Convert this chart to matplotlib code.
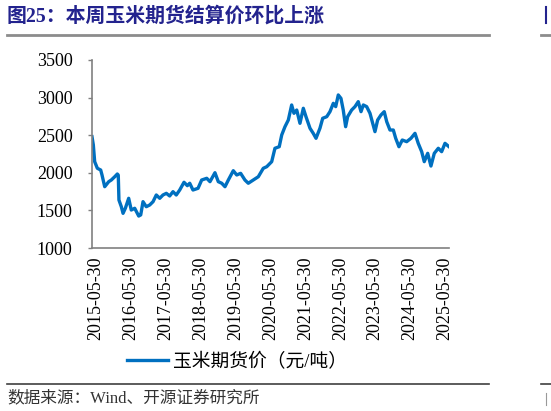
import matplotlib
matplotlib.use('Agg')
import matplotlib.pyplot as plt
import matplotlib.dates as mdates
import numpy as np
import pandas as pd

# 玉米期货结算价（元/吨），从图上读出的大致数值
dates = ['2015-04-18', '2015-05-02', '2015-05-16', '2015-06-13', '2015-07-18', '2015-08-01',
         '2015-08-29', '2015-10-10', '2015-11-06', '2015-12-12', '2016-01-08', '2016-01-18',
         '2016-01-25', '2016-02-19', '2016-03-08', '2016-04-01', '2016-05-06', '2016-06-02',
         '2016-07-08', '2016-08-19', '2016-09-09', '2016-10-03', '2016-11-06', '2016-12-12',
         '2017-01-16', '2017-02-19', '2017-03-27', '2017-04-30', '2017-06-04', '2017-07-09',
         '2017-08-13', '2017-09-16', '2017-10-22', '2017-12-06', '2018-01-10', '2018-02-04',
         '2018-03-10', '2018-05-02', '2018-06-09', '2018-08-01', '2018-09-04', '2018-10-26',
         '2018-11-30', '2019-01-05', '2019-02-08', '2019-03-15', '2019-05-06', '2019-06-11',
         '2019-07-22', '2019-09-05', '2019-10-10', '2019-12-01', '2020-01-23', '2020-03-15',
         '2020-04-20', '2020-06-11', '2020-07-15', '2020-08-29', '2020-09-24', '2020-10-28',
         '2020-12-02', '2021-01-06', '2021-01-30', '2021-02-28', '2021-04-03', '2021-05-08',
         '2021-06-05', '2021-07-17', '2021-08-20', '2021-09-18', '2021-10-29', '2021-11-27',
         '2022-01-08', '2022-02-11', '2022-03-18', '2022-04-12', '2022-05-09', '2022-06-06',
         '2022-06-30', '2022-07-25', '2022-08-15', '2022-09-26', '2022-10-31', '2022-12-04',
         '2023-01-02', '2023-01-26', '2023-03-02', '2023-04-06', '2023-05-28', '2023-06-25',
         '2023-07-30', '2023-09-02', '2023-09-28', '2023-11-01', '2023-12-06', '2023-12-31',
         '2024-02-03', '2024-03-09', '2024-04-24', '2024-06-08', '2024-07-20', '2024-08-23',
         '2024-09-28', '2024-10-25', '2024-11-30', '2025-01-03', '2025-02-07', '2025-03-21',
         '2025-04-25', '2025-05-30', '2025-07-11']
price = [2480, 2370, 2148, 2060, 2037, 1970,
         1815, 1882, 1904, 1948, 1984, 1970,
         1638, 1549, 1461, 1528, 1661, 1505,
         1528, 1425, 1440, 1616, 1549, 1572,
         1616, 1705, 1661, 1705, 1727, 1692,
         1749, 1705, 1771, 1874, 1829, 1861,
         1771, 1794, 1904, 1927, 1882, 2001,
         1882, 1861, 1815, 1904, 2028, 1971,
         1993, 1904, 1861, 1904, 1948, 2060,
         2081, 2148, 2326, 2347, 2503, 2613,
         2702, 2902, 2791, 2835, 2658, 2858,
         2746, 2592, 2525, 2459, 2592, 2725,
         2746, 2813, 2924, 2880, 3035, 2990,
         2835, 2613, 2746, 2835, 2880, 2946,
         2813, 2902, 2880, 2791, 2547, 2702,
         2769, 2813, 2680, 2569, 2569, 2459,
         2347, 2436, 2414, 2459, 2525, 2392,
         2281, 2148, 2259, 2090, 2259, 2326,
         2281, 2392, 2347]
tick_dates = ['%d-05-30' % y for y in range(2015, 2026)]
yticks = [1000, 1500, 2000, 2500, 3000, 3500]

title_txt = '图25：本周玉米期货结算价环比上涨'
legend_txt = '玉米期货价（元/吨）'
source_txt = '数据来源：Wind、开源证券研究所'

navy = '#23238e'
blue = '#0070c0'
serif_cn = ['Liberation Serif', 'Noto Sans CJK SC']

W, H = 551, 411


def fx(px):
    return px / W


def fy(py):
    return 1 - py / H


def main():
    x = pd.to_datetime(dates)
    fig = plt.figure(figsize=(W / 100, H / 100), dpi=100)
    ax = fig.add_axes([fx(92), fy(248), fx(449) - fx(92), fy(60) - fy(248)])

    ax.plot(x, price, color=blue, lw=2.4, label=legend_txt)

    ax.set_ylim(1000, 3500)
    ax.set_yticks(yticks)
    ax.set_xlim(x[0], x[-1])
    ax.set_xticks(pd.to_datetime(tick_dates))
    ax.xaxis.set_major_formatter(mdates.DateFormatter('%Y-%m-%d'))
    for lab in ax.get_xticklabels():
        lab.set_rotation(90)

    for s in ['top', 'right']:
        ax.spines[s].set_visible(False)
    for s in ['left', 'bottom']:
        ax.spines[s].set_color('#808080')
        ax.spines[s].set_linewidth(1.2)

    ax.tick_params(axis='y', direction='out', length=3, width=1, color='#808080', pad=11)
    ax.tick_params(axis='x', length=0, pad=6)
    for lab in ax.get_xticklabels() + ax.get_yticklabels():
        lab.set_family('Liberation Serif')
        lab.set_fontsize(13)
        lab.set_color('black')

    leg = ax.legend(loc='center', bbox_to_anchor=(fx(237), fy(362)), bbox_transform=fig.transFigure,
                    frameon=False, handlelength=2.2, handletextpad=0.3,
                    prop={'family': serif_cn, 'size': 13.5})

    # 标题和上下分隔线
    fig.text(fx(7), fy(17), title_txt, color=navy, fontsize=14.3, fontweight='bold',
             family=serif_cn, va='center', ha='left')
    fig.add_artist(plt.Line2D([fx(7), fx(489)], [fy(35), fy(35)], color='#8c8c8c', lw=2))
    fig.add_artist(plt.Line2D([fx(541), 1], [fy(35), fy(35)], color='#8c8c8c', lw=2))
    fig.add_artist(plt.Line2D([fx(7), fx(489)], [fy(384), fy(384)], color='#404040', lw=1.2))
    fig.add_artist(plt.Line2D([fx(541), 1], [fy(384), fy(384)], color='#404040', lw=1.2))
    # 右边缘只露出下一张图的一小段
    fig.add_artist(plt.Line2D([fx(545.5), fx(545.5)], [fy(7), fy(23)], color=navy, lw=1.5))
    fig.add_artist(plt.Line2D([fx(545.5), fx(545.5)], [fy(393), fy(405)], color='#999999', lw=0.8))
    fig.text(fx(7), fy(398), source_txt, color='#333333', fontsize=12,
             family=serif_cn, va='center', ha='left')

    fig.savefig('out.png', dpi=100)


if __name__ == '__main__':
    main()
